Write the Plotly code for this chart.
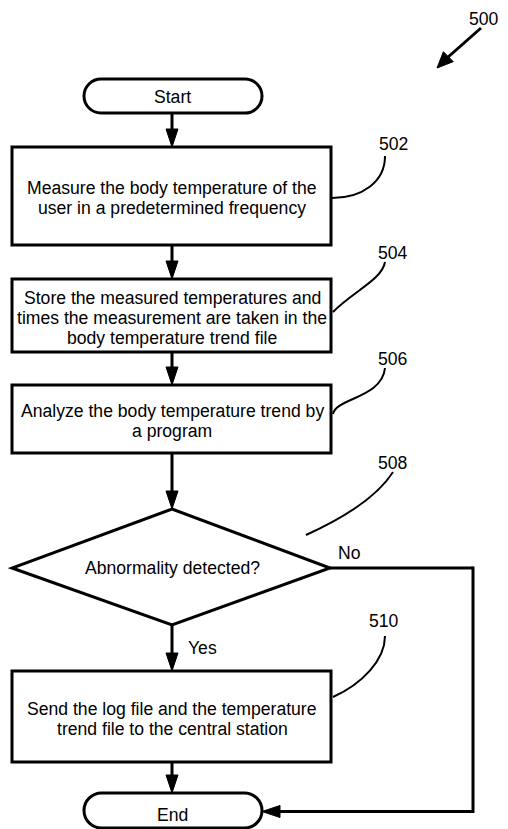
import plotly.graph_objects as go

# ---------------- content ----------------
terminal_texts = ["Start", "End"]
step_texts = [
    "Measure the body temperature of the<br>user in a predetermined frequency",
    "Store the measured temperatures and<br>times the measurement are taken in the<br>body temperature trend file",
    "Analyze the body temperature trend by<br>a program",
    "Send the log file and the temperature<br>trend file to the central station",
]
decision_text = "Abnormality detected?"
branch_labels = ["Yes", "No"]
ref_labels = ["502", "504", "506", "508", "510"]
figure_label = "500"

# ---------------- geometry (pixel layout) ----------------
W, H = 508, 829
OFF = 8  # page body margin
CX = 172
BOX_L, BOX_R = 12, 331
TERM_L, TERM_R = 84, 262
start_y = (79, 113)
step_y = [(147, 245), (279, 352), (385, 453), (671, 762)]
dia = dict(top=509, bottom=625, left=12, right=330, mid=568)
end_y = (793, 828)
no_x = 473
line_gap = 20
FONT = dict(family="Liberation Sans, Arial, sans-serif", size=17.6, color="black")

shapes = []
annotations = []


def add_text(x, y, text, xanchor="center"):
    annotations.append(dict(x=x, y=y, xref="x", yref="y", text=text, showarrow=False,
                            font=FONT, xanchor=xanchor, yanchor="middle"))


def multiline(cx, cy, text):
    lines = text.split("<br>")
    n = len(lines)
    for i, ln in enumerate(lines):
        add_text(cx, cy + (i - (n - 1) / 2) * line_gap, ln)


def stadium(x0, x1, y0, y1):
    r = (y1 - y0) / 2
    ym = (y0 + y1) / 2
    k = 0.5523 * r
    p = (f"M {x0+r},{y0} L {x1-r},{y0} C {x1-r+k},{y0} {x1},{ym-k} {x1},{ym} "
         f"C {x1},{ym+k} {x1-r+k},{y1} {x1-r},{y1} L {x0+r},{y1} "
         f"C {x0+r-k},{y1} {x0},{ym+k} {x0},{ym} C {x0},{ym-k} {x0+r-k},{y0} {x0+r},{y0} Z")
    shapes.append(dict(type="path", path=p, xref="x", yref="y",
                       line=dict(color="black", width=3), fillcolor="white"))


def rect(x0, x1, y0, y1):
    shapes.append(dict(type="rect", x0=x0, x1=x1, y0=y0, y1=y1, xref="x", yref="y",
                       line=dict(color="black", width=3), fillcolor="white"))


def head(tx, ty, dx, dy, length=18, half=6):
    bx, by = tx - dx * length, ty - dy * length
    px, py = -dy, dx
    p = (f"M {tx},{ty} L {bx+px*half},{by+py*half} L {bx-px*half},{by-py*half} Z")
    shapes.append(dict(type="path", path=p, xref="x", yref="y",
                       line=dict(color="black", width=1), fillcolor="black"))


def seg(x0, y0, x1, y1, w=3):
    shapes.append(dict(type="line", x0=x0, y0=y0, x1=x1, y1=y1, xref="x", yref="y",
                       line=dict(color="black", width=w)))


def down_arrow(x, y0, y1):
    seg(x, y0, x, y1 - 10)
    head(x, y1, 0, 1)


def curve(p, w=2):
    shapes.append(dict(type="path", path=p, xref="x", yref="y",
                       line=dict(color="black", width=w)))


# ---------------- nodes ----------------
stadium(TERM_L, TERM_R, *start_y)
add_text(CX, sum(start_y) / 2 + 1, terminal_texts[0])

for (y0, y1), txt in zip(step_y, step_texts):
    rect(BOX_L, BOX_R, y0, y1)
    multiline(CX, (y0 + y1) / 2 + 2, txt)

dp = (f"M {CX},{dia['top']} L {dia['right']},{dia['mid']} L {CX},{dia['bottom']} "
      f"L {dia['left']},{dia['mid']} Z")
shapes.append(dict(type="path", path=dp, xref="x", yref="y",
                   line=dict(color="black", width=3), fillcolor="white"))
add_text(CX, dia["mid"], decision_text)

stadium(TERM_L, TERM_R, *end_y)
end_mid = (end_y[0] + end_y[1]) / 2 + 1
add_text(CX, end_mid + 3, terminal_texts[1])

# ---------------- connectors ----------------
down_arrow(CX, start_y[1], step_y[0][0])
down_arrow(CX, step_y[0][1], step_y[1][0])
down_arrow(CX, step_y[1][1], step_y[2][0])
down_arrow(CX, step_y[2][1], dia["top"])
down_arrow(CX, dia["bottom"], step_y[3][0])
down_arrow(CX, step_y[3][1], end_y[0])

# No branch
seg(dia["right"], dia["mid"], no_x, dia["mid"])
seg(no_x, dia["mid"] - 1.5, no_x, end_mid + 1.5)
seg(no_x, end_mid, TERM_R + 12, end_mid)
head(TERM_R, end_mid, -1, 0)

add_text(202, 648, branch_labels[0])
add_text(349, 553, branch_labels[1])

# ---------------- reference labels & leaders ----------------
ref_pos = [(393, 144), (393, 253), (393, 359), (393, 463), (384, 621)]
for (x, y), lab in zip(ref_pos, ref_labels):
    add_text(x, y, lab)

curve("M 332,198 C 362,198 385,182 385,156")
curve("M 333,312 C 352,292 382,280 385,262")
curve("M 333,414 C 336,398 382,398 385,368")
curve("M 306,535 Q 372,505 393,472")
curve("M 333,697 C 362,684 385,660 385,636")

# figure label arrow
add_text(501, 19, figure_label, xanchor="right")
seg(481, 28, 447, 58, w=3)
head(437, 68, -0.7071, 0.7071, length=16, half=7)

fig = go.Figure()
fig.update_layout(
    width=W - OFF, height=H - OFF, margin=dict(l=0, r=0, t=0, b=0),
    paper_bgcolor="white", plot_bgcolor="white",
    xaxis=dict(range=[OFF, W], visible=False, fixedrange=True),
    yaxis=dict(range=[H, OFF], visible=False, fixedrange=True),
    shapes=shapes, annotations=annotations, showlegend=False,
)
fig.write_html("out.html")
